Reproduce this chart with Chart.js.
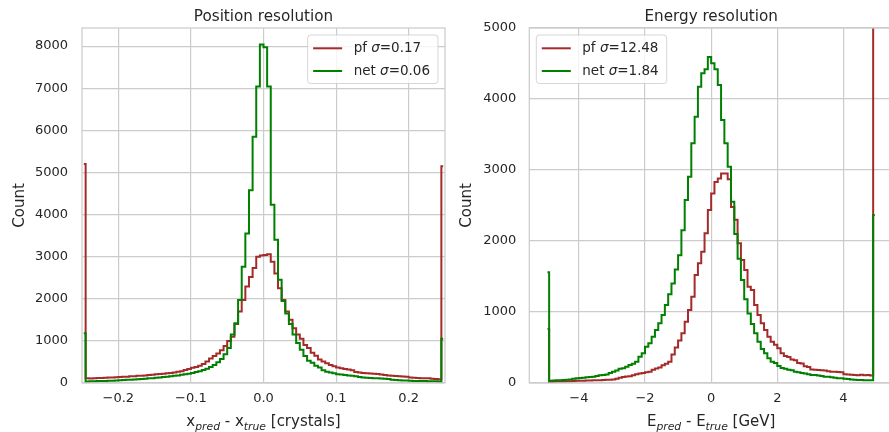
<!DOCTYPE html>
<html><head><meta charset="utf-8">
<script src="https://cdn.jsdelivr.net/npm/chart.js@4.4.1/dist/chart.umd.min.js"></script>
<style>
html,body{margin:0;padding:0;overflow:hidden;background:#fff;width:889px;height:432px;position:relative}
#c1{position:absolute;left:0;top:0}
#c2{position:absolute;left:450px;top:0}
</style></head><body>
<canvas id="c1" width="450" height="432"></canvas>
<canvas id="c2" width="450" height="432"></canvas>
<script>
// ---------------- data ----------------
const posBinStart = -0.25, posBinWidth = 0.005, posBinCount = 100;
const enBinStart = -5, enBinWidth = 0.1, enBinCount = 100;

const posPf = [
 5200,110,105,115,120,120,125,130,130,135,
 145,150,150,160,160,170,175,180,190,195,
 205,215,220,230,240,250,265,280,310,330,
 360,380,410,450,510,580,640,700,780,880,
 1000,1100,1400,1700,1970,2290,2520,2730,3000,3030,
 3040,3060,2880,2600,2250,1970,1700,1500,1300,1150,
 1050,900,830,720,650,560,510,470,430,400,
 370,350,330,320,300,260,250,240,230,225,
 220,215,200,190,180,170,165,160,155,150,
 130,125,120,115,110,110,100,95,90,5150];
const posNet = [
 1180,35,40,40,45,45,50,55,55,60,
 65,70,75,80,85,90,95,100,110,115,
 125,130,140,150,160,170,180,195,210,220,
 240,260,280,310,340,380,430,490,570,680,
 830,1150,1420,1970,2760,3550,4580,5850,7040,8040,
 7970,7040,4230,3400,2450,1950,1650,1400,1150,950,
 790,640,530,480,410,370,300,270,250,230,
 210,200,190,180,170,160,140,130,125,120,
 115,110,105,100,95,80,70,65,60,60,
 55,50,50,45,45,40,40,40,35,1050];
const enPf = [
 760,15,18,20,20,22,25,25,28,30,
 30,32,35,35,38,40,40,42,45,45,
 50,60,75,85,90,95,110,125,135,140,
 150,160,185,205,220,250,270,300,400,500,
 600,700,864,1028,1216,1521,1686,1850,2108,2437,
 2670,2830,2880,2950,2950,2870,2480,2300,1967,1732,
 1592,1357,1310,1099,958,840,746,652,580,540,
 488,418,380,365,330,320,280,275,235,225,
 190,185,183,180,175,165,160,158,155,150,
 125,118,115,113,110,115,110,112,105,5600];
const enNet = [
 1560,30,35,38,40,42,45,50,60,66,
 70,75,80,85,89,100,110,113,120,140,
 160,175,200,207,230,254,270,300,371,418,
 512,559,652,746,840,958,1100,1250,1400,1600,
 1800,2150,2577,2906,3376,3751,4173,4361,4418,4590,
 4502,4418,4197,3704,3376,3047,2554,2100,1750,1450,
 1180,980,830,700,580,480,420,350,300,280,
 240,210,200,185,180,160,150,140,135,125,
 113,113,105,100,89,89,80,75,66,66,
 60,55,50,45,42,42,40,40,38,2366];

const posTicksX = [-0.2,-0.1,0,0.1,0.2];
const posTickLabelsX = ['\u22120.2','\u22120.1','0.0','0.1','0.2'];
const posTicksY = [0,1000,2000,3000,4000,5000,6000,7000,8000];
const enTicksX = [-4,-2,0,2,4];
const enTickLabelsX = ['\u22124','\u22122','0','2','4'];
const enTicksY = [0,1000,2000,3000,4000,5000];

const seriesNames = ['pf','net'];
const posSigma = ['0.17','0.06'];
const enSigma = ['12.48','1.84'];

// ---------------- helpers ----------------
function binCenters(start, width, n){const c=[];for(let i=0;i<n;i++)c.push(+(start+(i+0.5)*width).toFixed(6));return c;}
function toPoints(xs, ys){return ys.map((y,i)=>({x:xs[i],y:y}));}

const RED='#a52a2a', GREEN='#008000', TXT='#262626', GRID='#cccccc';
const FAM='"DejaVu Sans"';
Chart.defaults.font.family='DejaVu Sans';
Chart.defaults.color=TXT;

function fontStr(r, size){return (r.it?'italic ':'')+size+'px '+FAM;}
function drawRuns(ctx, runs, x, y, size, align){
  let total=0;
  runs.forEach(r=>{const s=r.sub?size*0.72:size;ctx.font=fontStr(r,s);r.w=ctx.measureText(r.t).width;total+=r.w;});
  let cx = align==='center'? x-total/2 : x;
  ctx.textAlign='left';
  runs.forEach(r=>{const s=r.sub?size*0.72:size;ctx.font=fontStr(r,s);ctx.fillText(r.t,cx,y+(r.sub?size*0.27:0));cx+=r.w;});
  return total;
}

const decor = {
  id:'decor',
  afterDraw(chart, args, o){
    const ctx=chart.ctx, a=chart.chartArea;
    ctx.save();
    // spines
    ctx.strokeStyle=GRID; ctx.lineWidth=1.25;
    ctx.strokeRect(a.left,a.top,a.right-a.left,a.bottom-a.top);
    ctx.fillStyle=TXT;
    // title
    ctx.font='15.2px '+FAM; ctx.textAlign='center'; ctx.textBaseline='alphabetic';
    ctx.fillText(o.title,(a.left+a.right)/2,21);
    // x axis label
    drawRuns(ctx,o.xlabel,(a.left+a.right)/2,426,15,'center');
    // y axis label
    ctx.save();
    ctx.translate(o.ylabelX,(a.top+a.bottom)/2);
    ctx.rotate(-Math.PI/2);
    ctx.font='15px '+FAM; ctx.textAlign='center'; ctx.textBaseline='middle';
    ctx.fillText('Count',0,0);
    ctx.restore();
    // legend
    const L=o.legend, fs=13.5;
    ctx.textBaseline='middle';
    let maxW=0;
    L.items.forEach(it=>{let w=0;it.runs.forEach(r=>{ctx.font=fontStr(r,fs);w+=ctx.measureText(r.t).width;});maxW=Math.max(maxW,w);});
    const bw=46+maxW+8, bh=48.5;
    const bx = L.side==='right'? a.right-7-bw : a.left+7;
    const by = a.top+7;
    ctx.beginPath();
    const rr=3;
    ctx.moveTo(bx+rr,by);ctx.lineTo(bx+bw-rr,by);ctx.arcTo(bx+bw,by,bx+bw,by+rr,rr);
    ctx.lineTo(bx+bw,by+bh-rr);ctx.arcTo(bx+bw,by+bh,bx+bw-rr,by+bh,rr);
    ctx.lineTo(bx+rr,by+bh);ctx.arcTo(bx,by+bh,bx,by+bh-rr,rr);
    ctx.lineTo(bx,by+rr);ctx.arcTo(bx,by,bx+rr,by,rr);ctx.closePath();
    ctx.fillStyle='rgba(255,255,255,0.8)';ctx.fill();
    ctx.strokeStyle='rgba(204,204,204,0.8)';ctx.lineWidth=1;ctx.stroke();
    L.items.forEach((it,k)=>{
      const yy=by+13.3+k*22.7;
      ctx.strokeStyle=it.color;ctx.lineWidth=2;
      ctx.beginPath();ctx.moveTo(bx+5.5,yy);ctx.lineTo(bx+34.5,yy);ctx.stroke();
      ctx.fillStyle=TXT;
      drawRuns(ctx,it.runs,bx+46,yy,fs,'left');
    });
    ctx.restore();
  }
};

function legendItems(sig){
  return seriesNames.map((n,i)=>({color:i===0?RED:GREEN,runs:[{t:n+' '},{t:'\u03c3',it:true},{t:'='+sig[i]}]}));
}

function makeChart(id, cfg){
  const xs=binCenters(cfg.binStart,cfg.binWidth,cfg.n);
  return new Chart(document.getElementById(id),{
    type:'line',
    data:{datasets:[
      {label:seriesNames[0],data:toPoints(xs,cfg.pf),borderColor:RED,borderWidth:2,stepped:'middle',pointRadius:0,fill:false,order:1,borderJoinStyle:'miter'},
      {label:seriesNames[1],data:toPoints(xs,cfg.net),borderColor:GREEN,borderWidth:2,stepped:'middle',pointRadius:0,fill:false,order:0,borderJoinStyle:'miter'}
    ]},
    options:{
      responsive:false,animation:false,devicePixelRatio:1,
      layout:{padding:{left:0,right:cfg.padRight,top:28,bottom:0}},
      plugins:{legend:{display:false},tooltip:{enabled:false},
        decor:{title:cfg.title,xlabel:cfg.xlabel,ylabelX:cfg.ylabelX,legend:{side:cfg.legendSide,items:cfg.legend}}},
      scales:{
        x:{type:'linear',min:cfg.xmin,max:cfg.xmax,
          grid:{color:GRID,lineWidth:1.2,drawTicks:false},border:{display:false},
          afterBuildTicks:s=>{s.ticks=cfg.xticks.map(v=>({value:v}));},
          afterFit:s=>{s.height=49;s.paddingLeft=0;s.paddingRight=0;},
          ticks:{padding:8,maxRotation:0,autoSkip:false,font:{size:13},color:TXT,callback:(v,i)=>cfg.xlabels[i]}},
        y:{type:'linear',min:0,max:cfg.ymax,
          grid:{color:GRID,lineWidth:1.2,drawTicks:false},border:{display:false},
          afterBuildTicks:s=>{s.ticks=cfg.yticks.map(v=>({value:v}));},
          afterFit:s=>{s.width=cfg.yWidth;s.paddingTop=0;s.paddingBottom=0;},
          ticks:{padding:cfg.yPad,autoSkip:false,font:{size:13},color:TXT,callback:(v,i)=>String(cfg.yticks[i])}}
      }
    },
    plugins:[decor]
  });
}

makeChart('c1',{binStart:posBinStart,binWidth:posBinWidth,n:posBinCount,pf:posPf,net:posNet,
  xmin:-0.25,xmax:0.25,ymax:8430,xticks:posTicksX,xlabels:posTickLabelsX,yticks:posTicksY,
  yWidth:82,yPad:14,padRight:5,ylabelX:20.5,title:'Position resolution',legendSide:'right',legend:legendItems(posSigma),
  xlabel:[{t:'x'},{t:'pred',it:true,sub:true},{t:' - x'},{t:'true',it:true,sub:true},{t:' [crystals]'}]});
makeChart('c2',{binStart:enBinStart,binWidth:enBinWidth,n:enBinCount,pf:enPf,net:enNet,
  xmin:-5.5,xmax:5.5,ymax:5000,xticks:enTicksX,xlabels:enTickLabelsX,yticks:enTicksY,
  yWidth:79.3,yPad:13,padRight:7,ylabelX:17.5,title:'Energy resolution',legendSide:'left',legend:legendItems(enSigma),
  xlabel:[{t:'E'},{t:'pred',it:true,sub:true},{t:' - E'},{t:'true',it:true,sub:true},{t:' [GeV]'}]});
</script>
</body></html>
